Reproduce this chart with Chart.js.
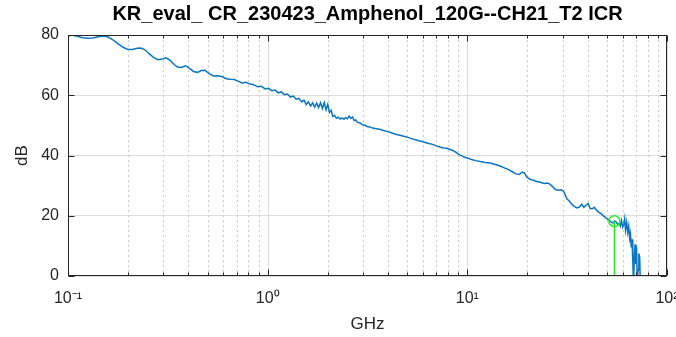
<!DOCTYPE html>
<html>
<head>
<meta charset="utf-8">
<script src="https://cdn.jsdelivr.net/npm/chart.js@4/dist/chart.umd.min.js"></script>
<style>
    html, body { margin: 0; padding: 0; background: #fff; }
    canvas { display: block; }
</style>
</head>
<body>
<canvas id="chart" width="676" height="337"></canvas>
<script>
// ICR curve (frequency in GHz, ICR in dB)
const freqGHz = [
    0.100, 0.104, 0.110, 0.117, 0.125, 0.133, 0.142, 0.150, 0.158, 0.167,
    0.177, 0.188, 0.198, 0.210, 0.222, 0.232, 0.243, 0.255, 0.268, 0.282,
    0.296, 0.310, 0.325, 0.340, 0.355, 0.372, 0.388, 0.405, 0.425, 0.445,
    0.465, 0.485, 0.510, 0.535, 0.560, 0.590, 0.620, 0.650, 0.680, 0.710,
    0.745, 0.780, 0.815, 0.850, 0.890, 0.930, 0.970, 1.010, 1.050, 1.090,
    1.130, 1.170, 1.210, 1.255, 1.300, 1.345, 1.390, 1.435, 1.480, 1.520,
    1.560, 1.600, 1.640, 1.680, 1.720, 1.760, 1.800, 1.840, 1.880, 1.920,
    1.960, 2.000, 2.040, 2.080, 2.120, 2.160, 2.210, 2.260, 2.310, 2.360,
    2.410, 2.460, 2.510, 2.560, 2.610, 2.660, 2.710, 2.760, 2.820, 2.900,
    2.980, 3.060, 3.150, 3.250, 3.350, 3.450, 3.560, 3.680, 3.800, 3.950,
    4.100, 4.260, 4.420, 4.600, 4.800, 5.000, 5.250, 5.500, 5.800, 6.100,
    6.400, 6.700, 7.000, 7.300, 7.600, 7.900, 8.200, 8.500, 8.800, 9.100,
    9.400, 9.700, 10.00, 10.50, 11.00, 11.60, 12.30, 13.00, 13.80, 14.60,
    15.40, 16.00, 16.80, 17.50, 18.20, 18.80, 19.30, 19.90, 20.60, 21.40,
    22.30, 23.20, 24.20, 25.20, 26.00, 26.80, 27.60, 28.50, 29.40, 30.30,
    30.90, 31.50, 32.30, 33.20, 34.20, 35.30, 36.40, 37.40, 38.30, 39.30,
    40.30, 41.20, 42.20, 43.20, 44.30, 45.50, 46.80, 48.20, 49.60, 51.00,
    52.40, 53.60, 54.60, 55.60, 56.60, 57.60, 58.40, 59.20, 60.00, 60.80,
    61.40, 62.00, 62.80, 63.60, 64.30, 65.00, 65.60, 66.20, 66.80, 67.40,
    68.00, 68.60, 69.20, 69.80, 70.40, 71.00, 71.60, 72.30, 73.00, 73.60
];
const icrDb = [
    79.6, 80.0, 79.7, 79.2, 78.9, 79.0, 79.4, 79.7, 79.4, 78.5,
    77.2, 76.0, 75.3, 75.2, 75.6, 75.7, 75.1, 73.8, 72.6, 71.8,
    72.0, 72.4, 71.6, 70.2, 69.3, 69.3, 69.8, 69.0, 67.9, 67.6,
    68.2, 68.3, 67.2, 66.4, 66.5, 66.2, 65.5, 65.3, 65.2, 64.7,
    64.1, 64.3, 63.7, 63.5, 62.8, 63.0, 62.1, 62.3, 61.5, 61.7,
    60.8, 61.1, 60.2, 60.4, 59.4, 59.7, 58.7, 59.0, 57.8, 58.4,
    56.9, 57.8, 56.4, 57.5, 56.1, 57.4, 55.9, 57.5, 55.6, 57.6,
    55.2, 57.0, 54.3, 55.0, 53.0, 53.3, 52.4, 52.7, 52.1, 52.5,
    52.0, 52.6, 52.2, 53.1, 52.3, 52.8, 51.6, 51.8, 51.0, 50.8,
    50.2, 50.1, 49.6, 49.5, 49.1, 49.0, 48.8, 48.6, 48.3, 48.0,
    47.7, 47.3, 47.0, 46.7, 46.4, 46.1, 45.6, 45.2, 44.8, 44.4,
    44.0, 43.7, 43.2, 42.8, 42.5, 42.4, 42.0, 41.6, 41.0, 40.3,
    39.9, 39.4, 39.2, 38.7, 38.3, 38.0, 37.7, 37.5, 37.0, 36.5,
    35.8, 35.4, 34.6, 33.9, 33.7, 34.5, 34.2, 32.8, 32.1, 31.8,
    31.4, 31.1, 30.7, 30.9, 30.4, 29.6, 28.7, 28.5, 28.6, 28.2,
    27.0, 25.6, 25.0, 24.0, 23.2, 22.6, 22.9, 23.8, 22.8, 23.5,
    24.1, 22.4, 22.3, 22.8, 21.9, 21.2, 20.6, 19.9, 19.2, 18.6,
    18.0, 17.6, 18.3, 18.0, 17.1, 17.5, 16.6, 18.4, 16.3, 17.2,
    19.0, 15.2, 17.8, 14.5, 16.5, 12.5, 14.0, 9.5, 12.2, 5.0,
    -3.0, 6.5, 10.5, 4.0, 9.8, -2.0, 2.0, 7.5, 6.0, -4.0
];

// marker (green circle + stem)
const markerGHz = 54.5;
const markerDb = 18.2;

const xMajorTicks = [0.1, 1, 10, 100];
const xMinorTicks = [
    0.2, 0.3, 0.4, 0.5, 0.6, 0.7, 0.8, 0.9,
    2, 3, 4, 5, 6, 7, 8, 9,
    20, 30, 40, 50, 60, 70, 80, 90
];
const xTickLabels = ['10\u207B\u00B9', '10\u2070', '10\u00B9', '10\u00B2'];
const yTicks = [0, 20, 40, 60, 80];

const titleText = 'KR_eval_ CR_230423_Amphenol_120G--CH21_T2 ICR';
const axisColor = '#262626';
const fontFamily = "'Liberation Sans', Arial, Helvetica, sans-serif";

// MATLAB-ish box, dotted minor grid and inward ticks
const matlabAxes = {
    id: 'matlabAxes',
    beforeDatasetsDraw(chart) {
        const { ctx, chartArea: a, scales: { x } } = chart;
        ctx.save();
        ctx.lineWidth = 1;
        for (const v of xMinorTicks) {
            const px = Math.round(x.getPixelForValue(v)) + 0.5;
            ctx.strokeStyle = '#c9c9c9';
            ctx.setLineDash([2, 3]);
            ctx.beginPath();
            ctx.moveTo(px, a.top);
            ctx.lineTo(px, a.bottom);
            ctx.stroke();
        }
        ctx.setLineDash([]);
        for (const v of xMajorTicks) {
            const px = Math.round(x.getPixelForValue(v)) + 0.5;
            ctx.strokeStyle = '#dcdcdc';
            ctx.beginPath();
            ctx.moveTo(px, a.top);
            ctx.lineTo(px, a.bottom);
            ctx.stroke();
        }
        ctx.restore();
    },
    afterDatasetsDraw(chart) {
        const { ctx, chartArea: a, scales: { x, y } } = chart;
        ctx.save();
        ctx.strokeStyle = axisColor;
        ctx.lineWidth = 1;
        const l = Math.round(a.left) + 0.5, r = Math.round(a.right) - 0.5;
        const t = Math.round(a.top) + 0.5, b = Math.round(a.bottom) - 0.5;
        ctx.strokeRect(l, t, r - l, b - t);
        ctx.beginPath();
        const tickX = (v, len) => {
            const px = Math.round(x.getPixelForValue(v)) + 0.5;
            ctx.moveTo(px, b); ctx.lineTo(px, b - len);
            ctx.moveTo(px, t); ctx.lineTo(px, t + len);
        };
        xMinorTicks.forEach(v => tickX(v, 3));
        xMajorTicks.forEach(v => tickX(v, 6));
        for (const v of yTicks) {
            const py = Math.round(y.getPixelForValue(v)) + 0.5;
            ctx.moveTo(l, py); ctx.lineTo(l + 6, py);
            ctx.moveTo(r, py); ctx.lineTo(r - 6, py);
        }
        ctx.stroke();
        ctx.restore();
    }
};

new Chart(document.getElementById('chart'), {
    type: 'line',
    data: {
        datasets: [{
            label: 'ICR',
            data: freqGHz.map((f, i) => ({ x: f, y: icrDb[i] })),
            borderColor: '#0b76c0',
            borderWidth: 1.5,
            pointRadius: 0,
            tension: 0,
            order: 2
        }, {
            label: 'stem',
            data: [{ x: markerGHz, y: 0 }, { x: markerGHz, y: markerDb }],
            borderColor: '#22ee22',
            borderWidth: 1.5,
            pointRadius: 0,
            order: 1
        }, {
            label: 'marker',
            data: [{ x: markerGHz, y: markerDb }],
            showLine: false,
            borderColor: '#22ee22',
            backgroundColor: 'rgba(0,0,0,0)',
            borderWidth: 1.5,
            pointRadius: 5.5,
            order: 0
        }]
    },
    options: {
        responsive: false,
        animation: false,
        devicePixelRatio: 1,
        layout: { padding: { left: 0, right: 9, top: 0, bottom: 0 } },
        plugins: {
            legend: { display: false },
            tooltip: { enabled: false },
            title: { display: false }
        },
        scales: {
            x: {
                type: 'logarithmic',
                min: 0.1,
                max: 100,
                afterBuildTicks: s => { s.ticks = xMajorTicks.map(v => ({ value: v })); },
                afterFit: s => { s.height = 61; s.paddingLeft = 0; s.paddingRight = 0; },
                grid: { display: false },
                border: { display: false },
                ticks: {
                    color: axisColor,
                    font: { family: fontFamily, size: 16 },
                    padding: 5,
                    maxRotation: 0,
                    autoSkip: false,
                    callback: (v, i) => xTickLabels[i]
                },
                title: {
                    display: true,
                    text: 'GHz',
                    color: axisColor,
                    font: { family: fontFamily, size: 17 },
                    padding: { top: 0, bottom: 2 }
                }
            },
            // top axis only carries the plot title, centred over the axes box
            top: {
                type: 'linear',
                position: 'top',
                min: 0,
                max: 1,
                afterFit: s => { s.height = 35; s.paddingLeft = 0; s.paddingRight = 0; },
                grid: { display: false },
                border: { display: false },
                ticks: { display: false },
                title: {
                    display: true,
                    text: titleText,
                    color: '#000',
                    font: { family: fontFamily, size: 20, weight: 'bold' },
                    padding: { top: 2, bottom: 0 }
                }
            },
            y: {
                min: 0,
                max: 80,
                afterBuildTicks: s => { s.ticks = yTicks.map(v => ({ value: v })); },
                afterFit: s => { s.width = 68; s.paddingTop = 0; s.paddingBottom = 0; },
                grid: { color: '#dcdcdc', drawTicks: false },
                border: { display: false },
                ticks: {
                    color: axisColor,
                    font: { family: fontFamily, size: 16 },
                    padding: 9
                },
                title: {
                    display: true,
                    text: 'dB',
                    color: axisColor,
                    font: { family: fontFamily, size: 17 },
                    padding: { top: 12, bottom: 0 }
                }
            }
        }
    },
    plugins: [matlabAxes]
});
</script>
</body>
</html>
